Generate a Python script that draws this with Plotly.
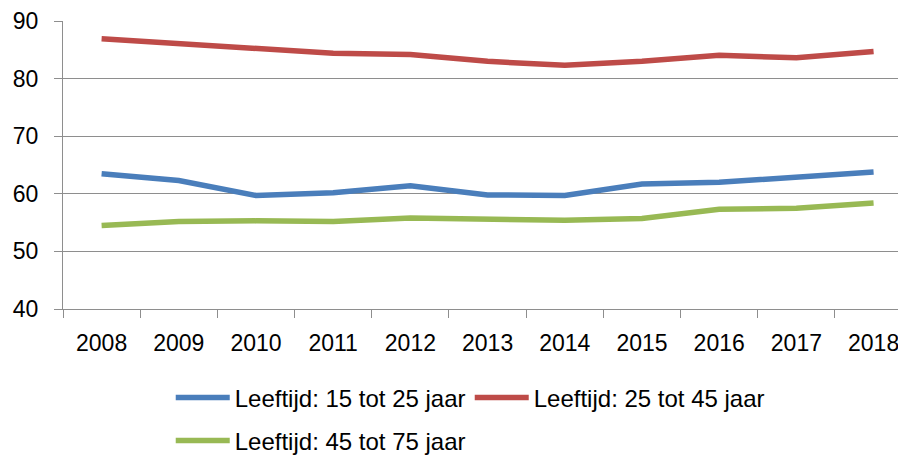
import plotly.graph_objects as go

years = ["2008", "2009", "2010", "2011", "2012", "2013", "2014", "2015", "2016", "2017", "2018"]
age_15_25 = [63.5, 62.3, 59.7, 60.2, 61.4, 59.8, 59.7, 61.7, 62.0, 62.9, 63.8]
age_25_45 = [86.9, 86.1, 85.3, 84.4, 84.2, 83.0, 82.3, 83.0, 84.05, 83.6, 84.7]
age_45_75 = [54.5, 55.2, 55.3, 55.2, 55.8, 55.5, 55.4, 55.7, 57.3, 57.5, 58.4]
names = ["Leeftijd: 15 tot 25 jaar", "Leeftijd: 25 tot 45 jaar", "Leeftijd: 45 tot 75 jaar"]
colors = ["#4A7EBB", "#BE4B48", "#98B954"]

FONT = "Liberation Sans"
GRID = "#8E8E8E"

fig = go.Figure()
for vals, name, col, leg in zip([age_15_25, age_25_45, age_45_75], names, colors,
                                ["legend", "legend", "legend2"]):
    fig.add_trace(go.Scatter(x=years, y=vals, name=name, mode="lines",
                             line=dict(color=col, width=5.5), legend=leg))

# the page body has an 8px margin, so the figure is 8px smaller than the window
fig.update_layout(
    width=898, height=449,
    margin=dict(l=55.3, r=0, t=12.7, b=148, autoexpand=False),
    plot_bgcolor="white", paper_bgcolor="white",
    font=dict(family=FONT, size=23, color="black"),
    showlegend=True,
    legend=dict(orientation="h", x=0.1278, xanchor="left", y=-0.3087, yanchor="middle",
                font=dict(family=FONT, size=24, color="black"),
                itemwidth=54, entrywidth=230, bgcolor="rgba(0,0,0,0)"),
    legend2=dict(orientation="h", x=0.1278, xanchor="left", y=-0.458, yanchor="middle",
                 font=dict(family=FONT, size=24, color="black"),
                 itemwidth=54, entrywidth=230, bgcolor="rgba(0,0,0,0)"),
)
fig.update_xaxes(type="category", range=[-0.5, 10.42], showgrid=False, automargin=False,
                 showline=True, linecolor=GRID, linewidth=1,
                 ticks="outside", tickson="boundaries", ticklen=8, tickcolor=GRID, tickwidth=1,
                 ticklabelstandoff=13, tickfont=dict(family=FONT, size=23, color="black"))
fig.update_yaxes(range=[40, 90], dtick=10, showgrid=True, gridcolor=GRID, gridwidth=1,
                 automargin=False,
                 showline=True, linecolor=GRID, linewidth=1, zeroline=False,
                 ticks="outside", ticklen=8, tickcolor=GRID, tickwidth=1,
                 ticklabelstandoff=11, tickfont=dict(family=FONT, size=23, color="black"))

fig.write_html("out.html")
